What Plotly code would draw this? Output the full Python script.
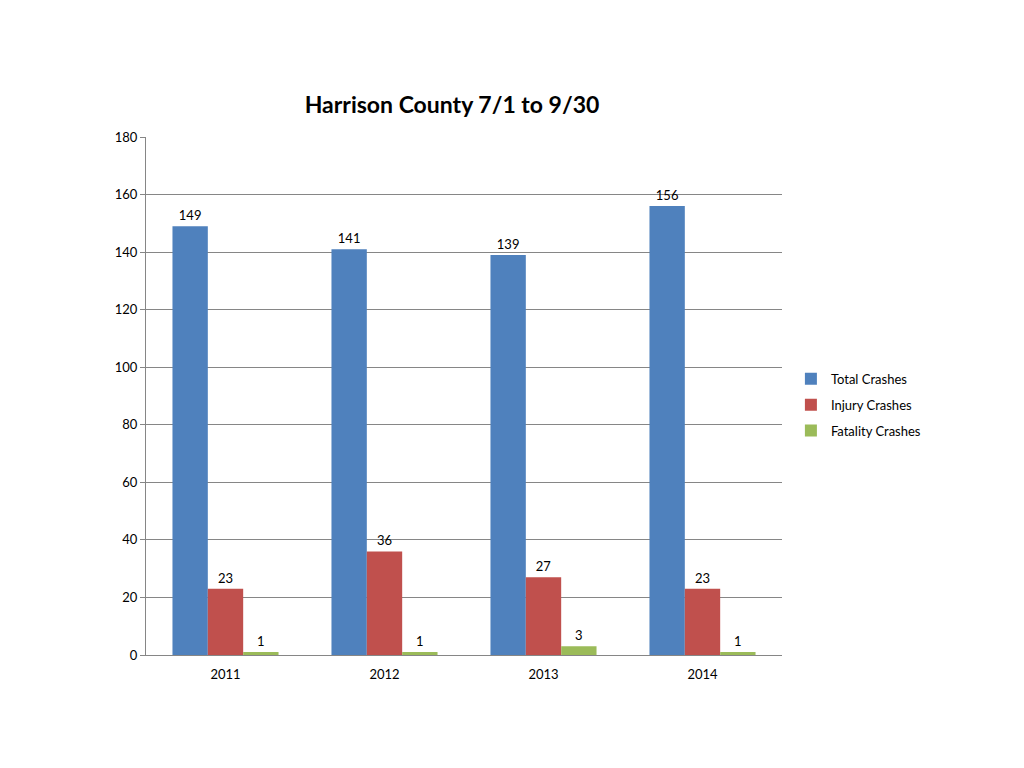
import plotly.graph_objects as go

years = ["2011", "2012", "2013", "2014"]
total_crashes = [149, 141, 139, 156]
injury_crashes = [23, 36, 27, 23]
fatality_crashes = [1, 1, 3, 1]

series = [
    ("Total Crashes", total_crashes, "#4F81BD"),
    ("Injury Crashes", injury_crashes, "#C0504D"),
    ("Fatality Crashes", fatality_crashes, "#9BBB59"),
]

FONT = "Lato, Calibri, Carlito, sans-serif"

fig = go.Figure()
for name, vals, color in series:
    fig.add_trace(go.Bar(
        x=years, y=vals, name=name, legendgroup=name,
        marker=dict(color=color, line=dict(width=0)),
        text=[str(v) for v in vals],
        textposition="outside",
        textfont=dict(size=13, color="#000000", family=FONT),
        cliponaxis=False,
    ))

fig.update_layout(
    width=1024, height=768,
    paper_bgcolor="white", plot_bgcolor="white",
    font=dict(family=FONT, size=12, color="#000000"),
    title=dict(text="<b>Harrison County 7/1 to 9/30</b>", x=444/1024, xanchor="center",
               y=1 - 97/768, yanchor="middle", font=dict(size=23, family=FONT)),
    margin=dict(l=138, r=250, t=129, b=121, autoexpand=False),
    barmode="group", bargap=0.333, bargroupgap=0,
    showlegend=True,
    legend=dict(x=1.014, xanchor="left", y=0.483, yanchor="middle",
                font=dict(size=13, family=FONT), tracegroupgap=6,
                itemwidth=30, bgcolor="rgba(0,0,0,0)"),
    xaxis=dict(showline=True, linecolor="#868686", linewidth=1, ticks="outside",
               ticklen=7, tickcolor="rgba(0,0,0,0)",
               tickfont=dict(size=13), showgrid=False),
    yaxis=dict(range=[0, 180], dtick=20, showgrid=True, gridcolor="#868686", gridwidth=1,
               showline=True, linecolor="#868686", linewidth=1, ticks="outside",
               ticklen=5, tickcolor="#868686", tickfont=dict(size=13), zeroline=False),
)

fig.write_html("out.html")
